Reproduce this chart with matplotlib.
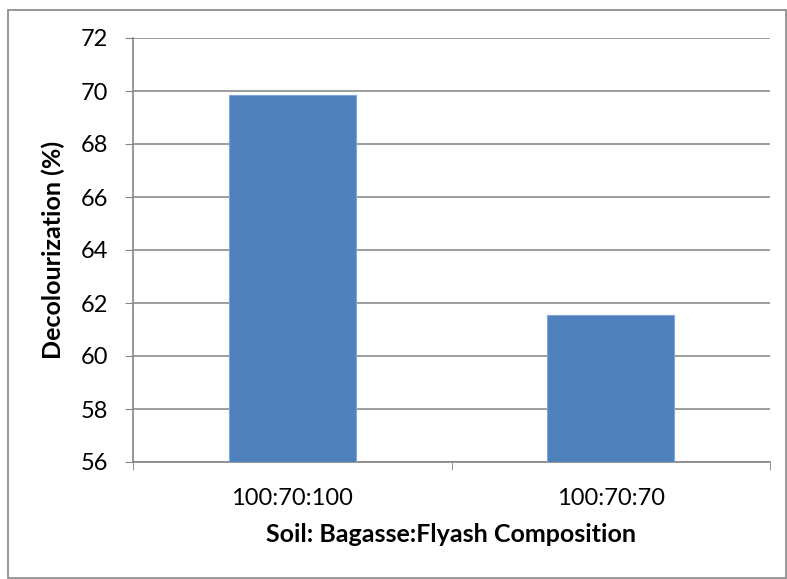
import numpy as np
import matplotlib.pyplot as plt
from matplotlib.patches import Rectangle

categories = ["100:70:100", "100:70:70"]
decolour = [69.85, 61.55]
yticks = [56, 58, 60, 62, 64, 66, 68, 70, 72]

plt.rcParams['font.family'] = ['Lato', 'DejaVu Sans']

fig = plt.figure(figsize=(7.87, 5.79), dpi=100)
ax = fig.add_axes([133/787, 1 - 462/579, (770-133)/787, (462-38)/579])

x = np.arange(len(categories))
ax.bar(x, decolour, width=0.4, color='#4f81bd', edgecolor='#7ea6d6', linewidth=0.8, zorder=3)

ax.set_xlim(-0.5, 1.5)
ax.set_ylim(56, 72)
ax.set_yticks(yticks)
ax.set_yticklabels([str(v) for v in yticks], fontsize=17)
ax.set_xticks(x)
ax.set_xticklabels(categories, fontsize=17)
ax.set_xticks([-0.5, 0.5, 1.5], minor=True)
ax.tick_params(axis='x', which='major', length=0, pad=19)
ax.tick_params(axis='x', which='minor', length=6, color='#868686', direction='out')
ax.tick_params(axis='y', length=6, color='#868686', direction='out', pad=12)

ax.grid(axis='y', color='#8c8c8c', linewidth=1.2, zorder=0)
for s in ['top', 'right']:
    ax.spines[s].set_visible(False)
for s in ['left', 'bottom']:
    ax.spines[s].set_color('#868686')
    ax.spines[s].set_linewidth(1.2)

ax.set_ylabel("Decolourization (%)", fontsize=18, fontweight='bold', labelpad=11)
ax.set_xlabel("Soil: Bagasse:Flyash Composition", fontsize=18, fontweight='bold', labelpad=10)

fig.patches.append(Rectangle((8/787, 1 - 578/579), 778/787, 568/579,
                             transform=fig.transFigure, fill=False,
                             edgecolor='#868686', linewidth=1.2))

fig.savefig('out.png', dpi=100)
